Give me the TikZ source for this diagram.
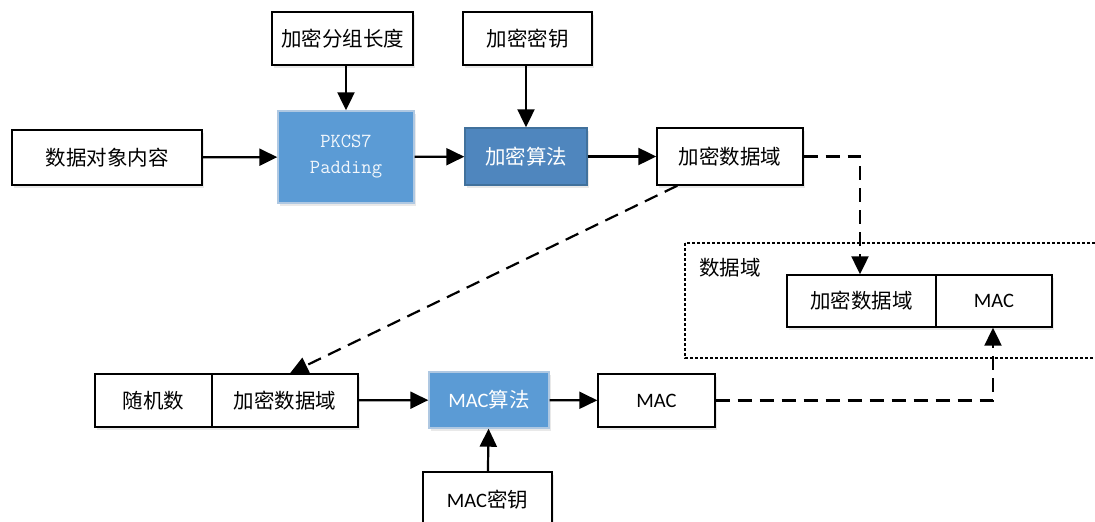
\documentclass[tikz,border=0pt]{standalone}
\usepackage{fontspec}
\newfontfamily\cjk{Noto Sans CJK SC}
\newfontfamily\lat{Carlito}
\usetikzlibrary{arrows.meta,shadows}
\definecolor{lblue}{HTML}{5B9BD5}
\definecolor{dblue}{HTML}{4F86BE}
\definecolor{dborder}{HTML}{41719C}
\definecolor{lborder}{HTML}{AFC8E2}
\begin{document}
\begin{tikzpicture}[x=1pt,y=-1pt,
  every node/.style={inner sep=0pt},
  box/.style={draw=black, line width=1.4pt, fill=white, font=\cjk\fontsize{20.5}{24}\selectfont,
    drop shadow={shadow xshift=1.5pt, shadow yshift=-2.5pt, fill=black!35, opacity=0.25}},
  bbox/.style={box, fill=lblue, draw=lborder, text=white},
  arr/.style={line width=2.2pt, -{Triangle[length=18pt,width=17pt]}},
  darr/.style={arr, dash pattern=on 14pt off 8pt},
]
\useasboundingbox (0,0) rectangle (1095,522);
% top row
\node[box, minimum width=190pt, minimum height=55pt] (obj) at (107,157.5) {数据对象内容};
\node[box, minimum width=141pt, minimum height=53pt] (len) at (342.5,38.5) {加密分组长度};
\node[box, minimum width=129pt, minimum height=53pt] (key) at (527.5,38.5) {加密密钥};
\node[bbox, minimum width=136pt, minimum height=92pt, align=center,
  font=\ttfamily\fontsize{20}{26}\selectfont, text=white!92!lblue] (pad) at (346,157) {PKCS7\\Padding};
\node[bbox, fill=dblue, draw=dborder, minimum width=122pt, minimum height=57pt] (enc) at (526,156.5) {加密算法};
\node[box, minimum width=146pt, minimum height=57pt] (edt) at (730,156.5) {加密数据域};
% data field frame
\draw[line width=1.5pt, dash pattern=on 3pt off 2pt] (685,243) rectangle (1105,358);
\node[font=\cjk\fontsize{20.5}{24}\selectfont] (lbl) at (730,268) {数据域};
\node[box, minimum width=149pt, minimum height=52pt] (ed2) at (861.5,301) {加密数据域};
\node[box, minimum width=116pt, minimum height=52pt, font=\lat\fontsize{20.5}{24}\selectfont] (mac2) at (994,301) {MAC};
% bottom row
\node[box, minimum width=117pt, minimum height=53pt] (rnd) at (153.5,400.5) {随机数};
\node[box, minimum width=146pt, minimum height=53pt] (ed3) at (285,400.5) {加密数据域};
\node[bbox, minimum width=120pt, minimum height=56pt] (malg) at (489,400) {{\lat MAC}算法};
\node[box, minimum width=117pt, minimum height=53pt, font=\lat\fontsize{20.5}{24}\selectfont] (mac) at (656.5,400.5) {MAC};
\node[box, minimum width=129pt, minimum height=56pt] (mkey) at (487.5,500) {{\lat MAC}密钥};
% connectors
\draw[arr] (obj) -- (pad);
\draw[arr] ([xshift=3.5pt]len.south) -- ([xshift=3.5pt]len.south |- pad.north);
\draw[arr] ([xshift=-1.5pt]key.south) -- ([xshift=-1.5pt]key.south |- enc.north);
\draw[arr] (pad) -- (enc);
\draw[arr] (enc) -- (edt);
\draw[darr] (edt.east) -| ([xshift=-1.5pt]ed2.north);
\draw[darr] ([xshift=21pt]edt.south west) -- ([xshift=5pt]ed3.north);
\draw[arr] (ed3) -- (malg);
\draw[arr] (malg) -- (mac);
\draw[arr] (mkey) -- (malg);
\draw[darr] (mac.east) -| ([xshift=-1pt]mac2.south);
\end{tikzpicture}
\end{document}
